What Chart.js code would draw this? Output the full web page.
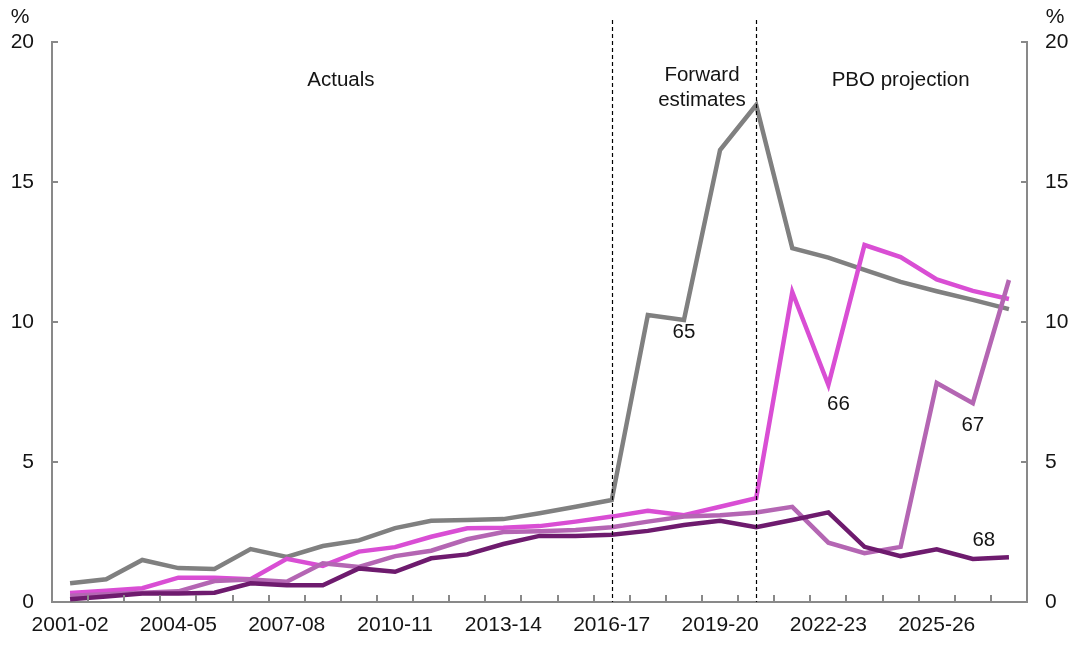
<!DOCTYPE html>
<html>
<head>
<meta charset="utf-8">
<script src="https://cdn.jsdelivr.net/npm/chart.js@4"></script>
<style>
  html, body { margin: 0; padding: 0; background: #fff; }
  #wrap { width: 1073px; height: 645px; position: relative; }
</style>
</head>
<body>
<div id="wrap"><canvas id="chart"></canvas></div>
<script>
// financial years on the x axis
const years = [
  "2001-02", "2002-03", "2003-04", "2004-05", "2005-06", "2006-07", "2007-08",
  "2008-09", "2009-10", "2010-11", "2011-12", "2012-13", "2013-14", "2014-15",
  "2015-16", "2016-17", "2017-18", "2018-19", "2019-20", "2020-21", "2021-22",
  "2022-23", "2023-24", "2024-25", "2025-26", "2026-27", "2027-28"
];

// share of people by age (%)
const age65 = [0.67, 0.81, 1.5, 1.21, 1.18, 1.89, 1.61, 2.0, 2.2, 2.64, 2.9, 2.93, 2.96, 3.17,
  3.4, 3.64, 10.25, 10.07, 16.14, 17.75, 12.64, 12.3, 11.86, 11.43, 11.1, 10.79, 10.46];
const age66 = [0.32, 0.4, 0.49, 0.87, 0.87, 0.81, 1.54, 1.29, 1.8, 1.96, 2.33, 2.63, 2.65, 2.71,
  2.87, 3.05, 3.26, 3.1, 3.4, 3.71, 11.07, 7.75, 12.75, 12.32, 11.52, 11.11, 10.82];
const age67 = [0.22, 0.28, 0.33, 0.38, 0.75, 0.8, 0.72, 1.38, 1.25, 1.64, 1.83, 2.24, 2.5, 2.53,
  2.57, 2.67, 2.87, 3.05, 3.1, 3.2, 3.4, 2.12, 1.74, 1.97, 7.82, 7.1, 11.5];
const age68 = [0.1, 0.2, 0.3, 0.3, 0.33, 0.67, 0.6, 0.6, 1.2, 1.08, 1.56, 1.7, 2.07, 2.36,
  2.36, 2.4, 2.54, 2.75, 2.9, 2.67, 2.93, 3.2, 1.97, 1.64, 1.88, 1.54, 1.6];

const yTicks = [0, 5, 10, 15, 20];
const dividers = ["2016-17", "2020-21"];

const FONT = "'Liberation Sans', Arial, sans-serif";
const AXIS = "#898989";
const INK = "#141414";

// inward tick marks, period dividers and text notes
const extras = {
  id: "extras",
  afterDraw(chart) {
    const { ctx, chartArea: a, scales: { x, y } } = chart;
    ctx.save();
    ctx.strokeStyle = AXIS;
    ctx.lineWidth = 2;
    ctx.beginPath();
    for (let i = 1; i < years.length; i++) {
      const px = Math.round((x.getPixelForValue(i - 1) + x.getPixelForValue(i)) / 2);
      ctx.moveTo(px, a.bottom);
      ctx.lineTo(px, a.bottom - 7);
    }
    yTicks.forEach(v => {
      const py = Math.round(y.getPixelForValue(v));
      ctx.moveTo(a.left, py); ctx.lineTo(a.left + 6, py);
      ctx.moveTo(a.right, py); ctx.lineTo(a.right - 6, py);
    });
    ctx.stroke();

    ctx.strokeStyle = "#000";
    ctx.lineWidth = 1.2;
    ctx.setLineDash([4, 3]);
    dividers.forEach(d => {
      const px = Math.round(x.getPixelForValue(years.indexOf(d))) + 0.5;
      ctx.beginPath();
      ctx.moveTo(px, 20);
      ctx.lineTo(px, a.bottom);
      ctx.stroke();
    });
    ctx.setLineDash([]);

    ctx.fillStyle = INK;
    ctx.font = "20.5px " + FONT;
    ctx.textAlign = "center";
    ctx.textBaseline = "middle";
    const at = (t, cat, val, dx) => ctx.fillText(t, x.getPixelForValue(cat) + (dx || 0), y.getPixelForValue(val));
    at("Actuals", 7.5, 18.64);
    at("Forward", 17.5, 18.8);
    at("estimates", 17.5, 17.9);
    at("PBO projection", 23, 18.64);
    at("65", 17, 9.64);
    at("66", 21, 7.07, 10);
    at("67", 25, 6.32);
    at("68", 25, 2.2, 11);
    ctx.font = "21px " + FONT;
    ctx.fillText("%", 20, 17);
    ctx.fillText("%", 1055, 17);
    ctx.restore();
  }
};

const line = (label, data, color) => ({
  label, data,
  borderColor: color,
  backgroundColor: color,
  borderWidth: 4.5,
  pointRadius: 0,
  tension: 0,
  fill: false
});

new Chart(document.getElementById("chart"), {
  type: "line",
  data: {
    labels: years,
    datasets: [
      line("68", age68, "#6e1b6e"),
      line("67", age67, "#b466b3"),
      line("66", age66, "#d94ed4"),
      line("65", age65, "#808080")
    ]
  },
  options: {
    responsive: true,
    maintainAspectRatio: false,
    animation: false,
    layout: { padding: { top: 42, left: 0, right: 0, bottom: 0 } },
    plugins: { legend: { display: false }, tooltip: { enabled: false } },
    scales: {
      x: {
        offset: true,
        grid: { offset: true, drawOnChartArea: false, drawTicks: false },
        border: { color: AXIS, width: 2 },
        ticks: {
          autoSkip: false,
          maxRotation: 0,
          padding: 11,
          color: INK,
          font: { family: FONT, size: 21 },
          callback: (v, i) => (i % 3 === 0 ? years[i] : "")
        },
        afterFit: s => { s.height = 43; }
      },
      y: {
        position: "left",
        min: 0, max: 20,
        afterBuildTicks: s => { s.ticks = yTicks.map(v => ({ value: v })); },
        grid: { drawOnChartArea: false, drawTicks: false },
        border: { color: AXIS, width: 2 },
        ticks: { padding: 18, color: INK, font: { family: FONT, size: 21 } },
        afterFit: s => { s.width = 52; }
      },
      y2: {
        position: "right",
        min: 0, max: 20,
        afterBuildTicks: s => { s.ticks = yTicks.map(v => ({ value: v })); },
        grid: { drawOnChartArea: false, drawTicks: false },
        border: { color: AXIS, width: 2 },
        ticks: { padding: 18, color: INK, font: { family: FONT, size: 21 } },
        afterFit: s => { s.width = 46; }
      }
    }
  },
  plugins: [extras]
});
</script>
</body>
</html>
